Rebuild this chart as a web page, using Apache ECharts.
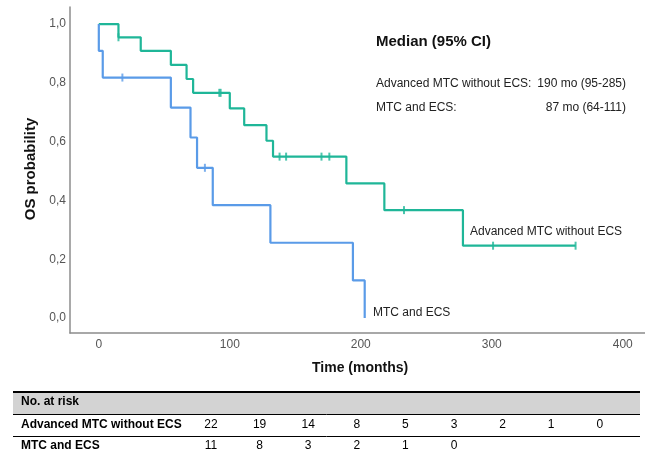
<!DOCTYPE html>
<html><head><meta charset="utf-8">
<script src="https://cdn.jsdelivr.net/npm/echarts@6/dist/echarts.min.js"></script>
<style>html,body{margin:0;padding:0;background:#fff}#c{width:645px;height:458px}</style>
</head><body><div id="c"></div>
<script>
// Kaplan-Meier step data: [time (months), survival]
const advSteps = [[0,1],[15,0.955],[32,0.909],[55,0.861],[67,0.813],[72,0.766],[100,0.713],[111,0.656],[128,0.603],[133,0.549],[189,0.458],[218,0.367],[278,0.246],[364,0.246]];
const advCensor = [[15,0.955],[92,0.766],[93,0.766],[138,0.549],[143,0.549],[170,0.549],[176,0.549],[233,0.367],[301,0.246],[364,0.246]];
const mtcSteps = [[0,1],[0,0.909],[3,0.818],[55,0.716],[70,0.614],[75,0.511],[87,0.384],[131,0.256],[194,0.128],[203,0]];
const mtcCensor = [[18,0.818],[81,0.511]];
const xTicks = [0,100,200,300,400];
const yTicks = [0,0.2,0.4,0.6,0.8,1.0];
const riskGroups = ['Advanced MTC without ECS','MTC and ECS'];
const riskAdv = [22,19,14,8,5,3,2,1,0];
const riskMtc = [11,8,3,2,1,0];
const medianRows = [['Advanced MTC without ECS:','190 mo (95-285)'],['MTC and ECS:','87 mo (64-111)']];

const GREEN = '#1fb698', BLUE = '#5a9be8';
const chart = echarts.init(document.getElementById('c'), null, {renderer:'canvas'});
const font = 'Arial, "Liberation Sans", sans-serif';

const graphics = [];
// median box
graphics.push({type:'text', left:376, top:34, style:{text:'Median (95% CI)', font:'bold 15px '+font, fill:'#111'}});
medianRows.forEach((r,i)=>{
  graphics.push({type:'text', left:376, top:78+i*23.5, style:{text:r[0], font:'12px '+font, fill:'#222'}});
  graphics.push({type:'text', right:645-626, top:78+i*23.5, style:{text:r[1], font:'12px '+font, fill:'#222', textAlign:'right'}});
});
// curve labels
graphics.push({type:'text', left:470, top:226, style:{text:'Advanced MTC without ECS', font:'12px '+font, fill:'#222'}});
graphics.push({type:'text', left:373, top:307, style:{text:'MTC and ECS', font:'12px '+font, fill:'#222'}});
// axis titles
graphics.push({type:'text', left:312, top:361, style:{text:'Time (months)', font:'bold 14px '+font, fill:'#111'}});
graphics.push({type:'text', x:31, y:169, rotation:Math.PI/2, style:{text:'OS probability', font:'bold 15px '+font, fill:'#111', textAlign:'center', textVerticalAlign:'middle'}});
// risk table
graphics.push({type:'rect', shape:{x:13, y:392, width:627, height:22.5}, style:{fill:'#d3d3d3'}});
graphics.push({type:'line', shape:{x1:13,y1:392,x2:640,y2:392}, style:{stroke:'#000', lineWidth:2}});
graphics.push({type:'line', shape:{x1:13,y1:414.5,x2:640,y2:414.5}, style:{stroke:'#000', lineWidth:1}});
graphics.push({type:'line', shape:{x1:13,y1:436.5,x2:640,y2:436.5}, style:{stroke:'#000', lineWidth:1}});
graphics.push({type:'text', x:21, y:402, style:{text:'No. at risk', font:'bold 12px '+font, fill:'#000', textVerticalAlign:'middle'}});
[riskAdv, riskMtc].forEach((row,ri)=>{
  const cy = 424.5 + ri*21.5;
  graphics.push({type:'text', x:21, y:cy, style:{text:riskGroups[ri], font:'bold 12px '+font, fill:'#000', textVerticalAlign:'middle'}});
  row.forEach((v,ci)=>{
    graphics.push({type:'text', x:211 + ci*48.6, y:cy, style:{text:String(v), font:'12px '+font, fill:'#000', textAlign:'center', textVerticalAlign:'middle'}});
  });
});

const censorSym = 'rect';
chart.setOption({
  animation:false,
  grid:{left:70, right:0, top:7, bottom:125, containLabel:false},
  xAxis:{type:'value', min:-22, max:417,
    axisLine:{onZero:false, lineStyle:{color:'#8c8c8c', width:1.5}},
    axisTick:{show:false}, splitLine:{show:false},
    axisLabel:{customValues:xTicks, color:'#555', fontSize:12, fontFamily:font, margin:6}},
  yAxis:{type:'value', min:-0.051, max:1.058,
    axisLine:{show:true, onZero:false, lineStyle:{color:'#8c8c8c', width:1.5}},
    axisTick:{show:false}, splitLine:{show:false},
    axisLabel:{customValues:yTicks, color:'#555', fontSize:12, fontFamily:font, margin:4,
      formatter:v=>v.toFixed(1).replace('.',',')}},
  series:[
    {type:'line', step:'end', data:advSteps, symbol:'none', lineStyle:{color:GREEN, width:2.2}},
    {type:'line', step:'end', data:mtcSteps, symbol:'none', lineStyle:{color:BLUE, width:2.2}},
    {type:'scatter', data:advCensor, symbol:censorSym, symbolSize:[2,8], itemStyle:{color:GREEN}},
    {type:'scatter', data:mtcCensor, symbol:censorSym, symbolSize:[2,8], itemStyle:{color:BLUE}}
  ],
  graphic:graphics
});
</script></body></html>
